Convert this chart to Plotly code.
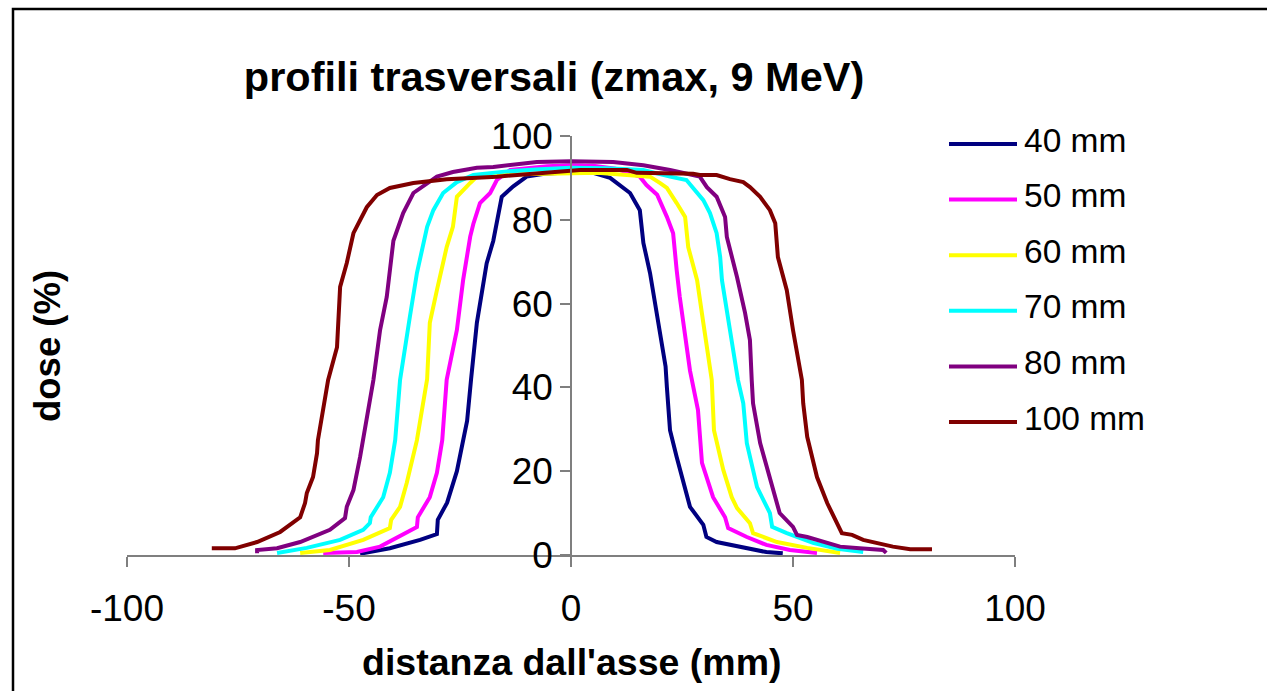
import plotly.graph_objects as go

# Transverse dose profiles at zmax, 9 MeV electron beam
dist_40 = [-47.5, -40.8, -34.0, -30.2, -30.0, -27.9, -25.7, -23.4, -22.5, -21.2, -19.0, -17.5, -15.6, -13.0,
           -10.0, -6.0, -2.0, 0.0, 3.0, 5.0, 8.8, 11.0, 13.3, 15.5, 16.3, 17.8, 20.0, 21.3, 21.6, 22.3,
           23.8, 26.0, 26.8, 29.8, 30.5, 32.8, 38.8, 44.0, 47.7]
dose_40 = [0.3, 1.6, 3.6, 5.0, 8.4, 12.5, 20.0, 32.0, 42.0, 55.4, 69.6, 75.0, 85.5, 88.0,
           90.3, 91.0, 91.2, 91.4, 91.4, 91.2, 90.0, 88.3, 86.4, 82.3, 74.5, 67.3, 53.7, 45.0, 40.0, 29.8,
           23.4, 14.8, 11.5, 7.2, 4.3, 3.1, 1.7, 0.7, 0.4]

dist_50 = [-55.8, -48.2, -43.0, -36.3, -34.7, -34.5, -31.8, -30.2, -29.0, -28.0, -25.7, -24.3, -22.7, -22.0,
           -20.5, -18.2, -16.7, -13.7, -5.4, 0.0, 5.0, 10.0, 15.5, 17.0, 19.4, 21.6, 23.0, 23.8, 24.5, 26.8,
           28.6, 29.5, 32.0, 34.7, 35.4, 39.6, 44.0, 49.3, 55.4]
dose_50 = [0.5, 0.7, 2.0, 6.0, 6.7, 9.0, 13.8, 19.6, 27.4, 41.8, 53.7, 65.6, 76.0, 79.0,
           84.0, 86.4, 89.5, 91.9, 92.8, 93.0, 92.9, 92.2, 90.3, 88.3, 86.0, 80.7, 76.8, 68.0, 61.6, 44.0,
           34.6, 22.0, 13.8, 9.0, 6.4, 4.3, 2.4, 1.2, 0.5]

dist_60 = [-61.0, -54.3, -46.8, -40.8, -40.5, -38.5, -37.0, -34.7, -32.4, -31.8, -30.2, -28.0, -26.6, -25.7,
           -22.7, -21.2, -15.0, -8.0, 0.0, 6.0, 12.6, 17.8, 20.0, 21.6, 23.8, 25.7, 26.4, 28.4, 29.8, 31.7,
           32.2, 34.3, 36.2, 37.4, 40.3, 41.0, 46.4, 53.2, 60.6]
dose_60 = [0.5, 1.2, 3.6, 6.4, 8.4, 11.5, 17.2, 27.4, 42.0, 55.4, 63.2, 73.5, 78.3, 85.5,
           88.8, 90.3, 90.8, 91.0, 91.2, 91.2, 90.7, 90.3, 88.8, 87.6, 84.0, 80.7, 73.5, 65.6, 55.4, 41.8,
           29.8, 20.3, 13.8, 11.2, 7.6, 5.2, 3.1, 1.7, 0.5]

dist_70 = [-66.2, -59.5, -52.0, -46.8, -45.3, -45.1, -42.3, -40.8, -39.6, -38.5, -36.3, -34.7, -32.4, -31.0,
           -28.8, -25.7, -22.0, -15.0, -8.0, 0.0, 8.0, 16.3, 22.3, 26.0, 27.5, 29.8, 31.3, 32.8, 33.6, 34.0,
           35.8, 37.6, 38.8, 39.6, 41.9, 44.8, 45.3, 48.6, 54.5, 60.0, 65.8]
dose_70 = [0.5, 1.7, 3.6, 6.0, 7.6, 9.0, 13.8, 19.6, 27.4, 41.8, 56.8, 67.3, 78.3, 82.3,
           86.4, 89.0, 90.7, 91.5, 92.0, 92.4, 92.3, 91.9, 90.3, 89.5, 87.6, 84.7, 81.6, 76.8, 71.1, 65.6,
           53.7, 41.8, 36.2, 26.7, 16.2, 10.0, 6.7, 5.2, 2.9, 1.5, 0.7]

dist_80 = [-70.7, -70.7, -66.2, -61.0, -54.3, -50.9, -50.5, -49.0, -47.5, -46.8, -44.5, -43.0, -41.5, -40.0,
           -37.8, -35.5, -32.4, -30.2, -26.6, -21.2, -17.5, -10.8, -7.7, 0.0, 9.5, 16.3, 22.3, 29.0, 30.6,
           32.8, 34.7, 35.1, 37.4, 39.2, 40.3, 40.7, 41.0, 42.6, 45.5, 47.0, 50.0, 50.9, 53.2, 60.6, 65.0,
           70.3, 71.0]
dose_80 = [0.4, 1.2, 1.6, 3.1, 6.0, 8.8, 11.5, 15.5, 23.4, 27.4, 41.8, 53.7, 61.6, 75.0,
           81.6, 86.4, 88.8, 90.3, 91.4, 92.4, 92.6, 93.5, 93.8, 94.0, 93.8, 93.0, 91.9, 90.3, 87.8,
           85.5, 80.7, 75.9, 66.3, 57.8, 51.3, 41.8, 36.2, 26.7, 16.2, 10.0, 6.7, 4.8, 4.3, 2.0, 1.6,
           1.2, 0.5]

dist_100 = [-80.9, -75.7, -70.7, -65.5, -61.0, -59.9, -59.5, -58.1, -57.2, -57.0, -54.7, -52.7, -52.0, -50.5,
            -49.0, -46.0, -43.7, -40.8, -35.5, -28.0, -16.7, -8.6, -1.8, 2.0, 5.0, 12.6, 14.8, 27.5, 29.0,
            32.8, 35.8, 38.8, 40.3, 42.6, 44.8, 46.0, 46.6, 48.6, 50.0, 52.0, 52.3, 53.2, 55.4, 57.7, 59.9,
            61.0, 63.3, 65.8, 72.5, 76.4, 81.3]
dose_100 = [1.6, 1.6, 3.1, 5.5, 9.0, 12.4, 14.8, 18.6, 24.3, 27.4, 41.8, 49.6, 64.0, 69.7,
            76.8, 83.0, 85.9, 87.6, 88.8, 89.7, 90.3, 91.0, 91.4, 91.9, 91.9, 91.9, 91.2, 91.0, 90.7,
            90.7, 89.7, 89.0, 87.8, 85.5, 82.3, 79.2, 71.1, 63.2, 53.7, 41.8, 36.2, 28.2, 18.6, 12.4, 7.6,
            5.2, 4.8, 3.6, 2.0, 1.4, 1.4]

series_names = ["40 mm", "50 mm", "60 mm", "70 mm", "80 mm", "100 mm"]
series_x = [dist_40, dist_50, dist_60, dist_70, dist_80, dist_100]
series_y = [dose_40, dose_50, dose_60, dose_70, dose_80, dose_100]
colors = ["#000080", "#FF00FF", "#FFFF00", "#00FFFF", "#800080", "#800000"]

x_ticks = [-100, -50, 0, 50, 100]
y_ticks = [0, 20, 40, 60, 80, 100]

FONT = "Liberation Sans, Arial, sans-serif"
W, H = 1267, 691
ML, MR, MT, MB = 127, 252, 136, 136
PW, PH = W - ML - MR, H - MT - MB


def px_to_paper(px, py):
    return (px - ML) / PW, (H - MB - py) / PH


fig = go.Figure()
for name, xs, ys, c in zip(series_names, series_x, series_y, colors):
    fig.add_trace(go.Scatter(x=xs, y=ys, mode="lines", name=name,
                             line=dict(color=c, width=4), showlegend=False))

# legend drawn at the right: sample line + label per series
legend_top, legend_step = 144, 55.6
for i, (name, c) in enumerate(zip(series_names, colors)):
    ly = legend_top + i * legend_step
    x0, y0 = px_to_paper(949, ly)
    x1, _ = px_to_paper(1017, ly)
    fig.add_shape(type="line", xref="paper", yref="paper", x0=x0, x1=x1, y0=y0, y1=y0,
                  line=dict(color=c, width=4))
    tx, ty = px_to_paper(1022, ly - 4)
    fig.add_annotation(xref="paper", yref="paper", x=tx, y=ty, text=name, showarrow=False,
                       xanchor="left", yanchor="middle", font=dict(family=FONT, size=33.5, color="black"))

# outer chart frame
fx0, fy1 = px_to_paper(13, 9)
fx1, fy0 = px_to_paper(1300, 720)
fig.add_shape(type="rect", xref="paper", yref="paper", x0=fx0, x1=fx1, y0=fy0, y1=fy1,
              line=dict(color="black", width=2.5), layer="below")

# axis titles
ax, ay = px_to_paper(571, 662)
fig.add_annotation(xref="paper", yref="paper", x=ax, y=ay, text="<b>distanza dall'asse (mm)</b>",
                   showarrow=False, xanchor="center", yanchor="middle",
                   font=dict(family=FONT, size=37.5, color="black"))
bx, by = px_to_paper(47, 346)
fig.add_annotation(xref="paper", yref="paper", x=bx, y=by, text="<b>dose (%)</b>", textangle=-90,
                   showarrow=False, xanchor="center", yanchor="middle",
                   font=dict(family=FONT, size=36.5, color="black"))

fig.update_layout(
    width=W, height=H,
    margin=dict(l=ML, r=MR, t=MT, b=MB, autoexpand=False),
    paper_bgcolor="white", plot_bgcolor="white",
    title=dict(text="<b>profili trasversali (zmax, 9 MeV)</b>", x=554 / W, xanchor="center",
               y=1 - 76 / H, yanchor="middle", yref="container",
               font=dict(family=FONT, size=41.5, color="black")),
    font=dict(family=FONT, color="black"),
    xaxis=dict(range=[-100, 100], tickvals=x_ticks, ticktext=[str(v) for v in x_ticks],
               showline=True, linecolor="#7f7f7f", linewidth=1.5, ticks="outside", ticklen=10,
               tickcolor="#7f7f7f", tickwidth=1.5, showgrid=False, zeroline=False,
               tickfont=dict(family=FONT, size=37, color="black"), ticklabelstandoff=10),
    yaxis=dict(range=[0, 100], tickvals=y_ticks, ticktext=[str(v) for v in y_ticks],
               anchor="free", position=0.5, showline=True, linecolor="#7f7f7f", linewidth=1.5,
               ticks="outside", ticklen=10, tickcolor="#7f7f7f", tickwidth=1.5,
               showgrid=False, zeroline=False,
               tickfont=dict(family=FONT, size=37, color="black")),
)

fig.write_html("out.html")
